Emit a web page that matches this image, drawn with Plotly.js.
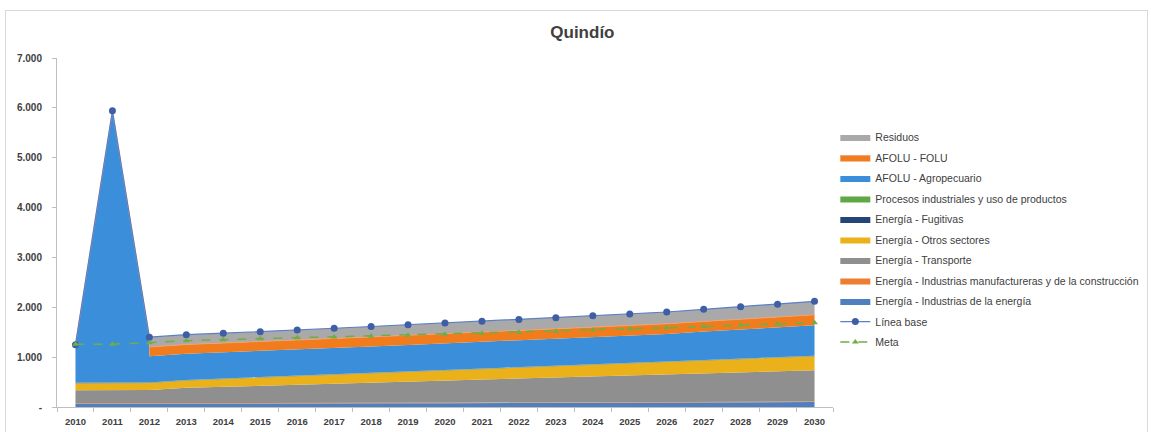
<!DOCTYPE html>
<html><head><meta charset="utf-8">
<script src="https://cdn.plot.ly/plotly-3.0.1.min.js"></script>
<style>
html,body{margin:0;padding:0;background:#fff;overflow:hidden}
#frame{position:absolute;left:5px;top:10px;width:1141px;height:440px;border:1px solid #d9d9d9;}
#chart{position:absolute;left:0;top:0;width:1151px;height:432px;}
</style></head><body>
<div id="frame"></div><div id="chart"></div>
<script>
const years = [2010,2011,2012,2013,2014,2015,2016,2017,2018,2019,2020,2021,2022,2023,2024,2025,2026,2027,2028,2029,2030];
const yearLabels = years.map(String);

const indEnergia   = [70,70,60,62,64,66,68,70,72,74,76,78,80,82,84,86,88,90,92,96,100];
const indManuf     = [8,8,8,8,8,8,9,9,9,9,9,9,10,10,10,10,10,10,10,11,11];
const transporte   = [259,264,274,314,333,351,368,387,405,423,442,460,477,496,514,532,551,569,587,607,627];
const otrosSect    = [140,140,140,150,158,166,174,182,190,198,206,214,222,230,238,246,254,262,270,275,280];
const fugitivas    = [4,4,4,4,4,4,4,4,4,4,4,4,4,4,4,4,4,4,4,4,4];
const procesos     = [6,6,6,6,6,6,6,6,6,6,6,6,6,6,6,6,6,6,6,6,6];
const agropecuario = [763,5448,528,523,521,519,523,525,528,531,533,536,538,539,545,547,553,571,583,593,612];
const folu         = [null,null,185,186,187,189,190,191,192,193,194,195,197,198,200,201,202,204,206,208,210];
const residuos     = [null,null,195,197,199,201,203,206,209,212,215,218,221,225,229,233,237,244,252,260,270];
const lineaBase    = [1250,5940,1400,1450,1480,1510,1545,1580,1615,1650,1685,1720,1755,1790,1830,1865,1905,1960,2010,2060,2120];
const meta         = [1260,1260,1290,1330,1350,1370,1390,1405,1420,1440,1460,1480,1500,1520,1545,1565,1590,1615,1640,1665,1690];

const yTickVals = [0,1000,2000,3000,4000,5000,6000,7000];
const yTickText = ['-','1.000','2.000','3.000','4.000','5.000','6.000','7.000'];

const stackNames = [
  'Energía - Industrias de la energía',
  'Energía - Industrias manufactureras y de la construcción',
  'Energía - Transporte',
  'Energía - Otros sectores',
  'Energía - Fugitivas',
  'Procesos industriales y uso de productos',
  'AFOLU - Agropecuario',
  'AFOLU - FOLU',
  'Residuos'
];
const stackSeries = [indEnergia, indManuf, transporte, otrosSect, fugitivas, procesos, agropecuario, folu, residuos];
const stackColors = ['#4F7FBF','#ED7D31','#8F8F8F','#EBB11A','#264478','#5FA843','#3B8FDA','#F07C1E','#A9A9A9'];
const AGRO = 6;

// Expand points: duplicate the first year in which the upper series start (step like the source chart)
const split = folu.findIndex(v => v !== null);
const pts = [];
years.forEach((y, i) => { if (i === split) pts.push({i, pre: true}); pts.push({i, pre: false}); });
const xs = pts.map(p => years[p.i]);
const tops = stackSeries.map(() => []);
pts.forEach(p => {
  const total = stackSeries.reduce((a, s) => a + (s[p.i] ?? 0), 0);
  let cum = 0;
  stackSeries.forEach((s, k) => {
    if (p.pre && k >= AGRO) cum = total; else cum += (s[p.i] ?? 0);
    tops[k].push(cum);
  });
});

const traces = stackSeries.map((s, k) => ({
  x: xs, y: tops[k], type: 'scatter', mode: 'lines',
  line: {width: k === 7 ? 1 : 0, color: k === 7 ? '#F4A070' : stackColors[k]},
  fill: k === 0 ? 'tozeroy' : 'tonexty', fillcolor: stackColors[k],
  name: stackNames[k], legendrank: 9 - k, legendgroup: 'g' + k, hoverinfo: 'skip'
}));
traces.push({
  x: years, y: lineaBase, type: 'scatter', mode: 'lines+markers', name: 'Línea base',
  line: {color: '#5B7FC4', width: 1.2}, marker: {size: 7, color: '#3E5FA6'},
  legendrank: 10, legendgroup: 'lb'
});
traces.push({
  x: years, y: meta, type: 'scatter', mode: 'lines+markers', name: 'Meta',
  line: {color: '#70AD47', width: 1.5, dash: 'dash'}, marker: {size: 6, symbol: 'triangle-up', color: '#70AD47'},
  legendrank: 11, legendgroup: 'mt'
});

const tickFont = {family: 'Liberation Sans, Arial, sans-serif', size: 9.5, color: '#404040', weight: 'bold'};
const layout = {
  width: 1151, height: 432,
  margin: {l: 57, r: 318, t: 58, b: 25, autoexpand: false},
  paper_bgcolor: 'rgba(0,0,0,0)', plot_bgcolor: 'rgba(0,0,0,0)',
  showlegend: true,
  title: {text: 'Quindío', x: 0.506, xref: 'container', xanchor: 'center', y: 0.926, yref: 'container', yanchor: 'middle',
          font: {family: 'Liberation Sans, Arial, sans-serif', size: 17, color: '#404040', weight: 'bold'}},
  xaxis: {
    type: 'linear', range: [2009.5, 2030.5], tickmode: 'array', tickvals: years, ticktext: yearLabels,
    ticks: '', showgrid: false, zeroline: false, showline: true, linecolor: '#bfbfbf', linewidth: 1,
    tickfont: tickFont, ticklabelstandoff: 6,
    minor: {tick0: 2009.5, dtick: 1, ticks: 'outside', ticklen: 4, tickcolor: '#bfbfbf', showgrid: false}
  },
  yaxis: {
    range: [0, 7000], tickmode: 'array', tickvals: yTickVals, ticktext: yTickText,
    ticks: 'outside', ticklen: 4, tickcolor: '#bfbfbf', showgrid: false, zeroline: false,
    showline: true, linecolor: '#bfbfbf', linewidth: 1, tickfont: Object.assign({}, tickFont, {size: 10}), ticklabelstandoff: 8
  },
  legend: {
    x: 1.003, xanchor: 'left', y: 0.815, yanchor: 'top', traceorder: 'grouped', tracegroupgap: 1.5,
    font: {family: 'Liberation Sans, Arial, sans-serif', size: 10.5, color: '#404040'},
    bgcolor: 'rgba(0,0,0,0)', itemclick: false
  }
};
Plotly.newPlot('chart', traces, layout, {staticPlot: true});
</script>
</body></html>
